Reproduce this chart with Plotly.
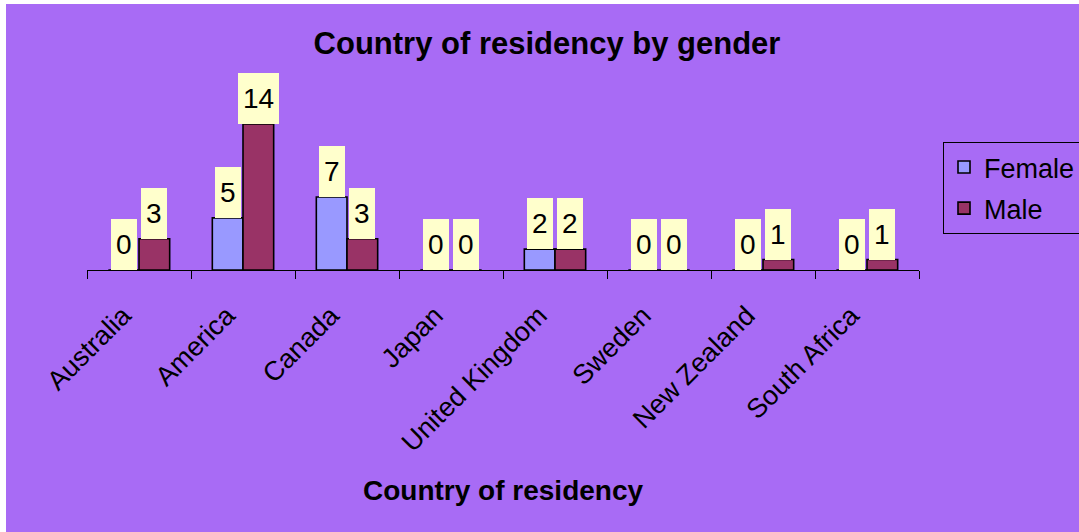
import plotly.graph_objects as go

countries = ["Australia", "America", "Canada", "Japan", "United Kingdom",
             "Sweden", "New Zealand", "South Africa"]
female = [0, 5, 7, 0, 2, 0, 0, 0]
male = [3, 14, 3, 0, 2, 0, 1, 1]

W, H = 1079, 532
ML, MR, MT, MB = 87, 160, 124, 262
PW, PH = W - ML - MR, H - MT - MB
PURPLE = "#A86BF5"
FONT = "Liberation Sans, Arial, sans-serif"
BARGAP = 0.41

def px_x(p):
    return (p - ML) / PW

def px_y(p):
    return (H - MB - p) / PH

fig = go.Figure()
fig.add_trace(go.Bar(name="Female", x=countries, y=female, legendgroup="f",
                     marker=dict(color="#9999FF", line=dict(color="black", width=1.6))))
fig.add_trace(go.Bar(name="Male", x=countries, y=male, legendgroup="m",
                     marker=dict(color="#993366", line=dict(color="black", width=1.6))))

# value labels in yellow boxes
half = (1 - BARGAP) / 4
annotations = []
for i, (f, m) in enumerate(zip(female, male)):
    for v, off in ((f, -half), (m, half)):
        annotations.append(dict(
            x=i + off, y=v, xref="x", yref="y", text=str(v), showarrow=False,
            yanchor="bottom", xanchor="center", bgcolor="#FFFFCC",
            borderpad=5, borderwidth=0, height=41,
            font=dict(family=FONT, size=28, color="black")))

annotations.append(dict(
    x=0.5, y=px_y(490), xref="paper", yref="paper", text="<b>Country of residency</b>",
    showarrow=False, xanchor="center", yanchor="middle",
    font=dict(family=FONT, size=28, color="black")))

fig.update_layout(
    width=W, height=H,
    margin=dict(l=ML, r=MR, t=MT, b=MB, autoexpand=False),
    paper_bgcolor="white",
    plot_bgcolor="rgba(0,0,0,0)",
    barmode="group", bargap=BARGAP, bargroupgap=0,
    title=dict(text="<b>Country of residency by gender</b>", x=547 / W, xref="container",
               xanchor="center", y=1 - 43 / H, yref="container", yanchor="middle",
               font=dict(family=FONT, size=31, color="black")),
    font=dict(family=FONT, color="black"),
    xaxis=dict(showline=True, linecolor="black", linewidth=1, ticks="outside",
               tickson="boundaries", ticklen=8, tickcolor="black", tickwidth=1,
               tickangle=-45, tickfont=dict(family=FONT, size=27, color="black"),
               ticklabelstandoff=18, ticklabelshift=-16,
               showgrid=False, zeroline=False),
    yaxis=dict(visible=False, range=[0, 14], showgrid=False, zeroline=False),
    legend=dict(x=px_x(943), y=px_y(142), xanchor="left", yanchor="top",
                bgcolor=PURPLE, bordercolor="black", borderwidth=1,
                tracegroupgap=3, font=dict(family=FONT, size=27, color="black")),
    annotations=annotations,
    shapes=[dict(type="rect", xref="paper", yref="paper", layer="below",
                 x0=px_x(6), x1=px_x(W + 5), y0=px_y(H + 5), y1=px_y(4),
                 fillcolor=PURPLE, line=dict(width=0))],
)

fig.write_html("out.html", config={"displayModeBar": False},
               post_script="document.body.style.margin='0px';")
